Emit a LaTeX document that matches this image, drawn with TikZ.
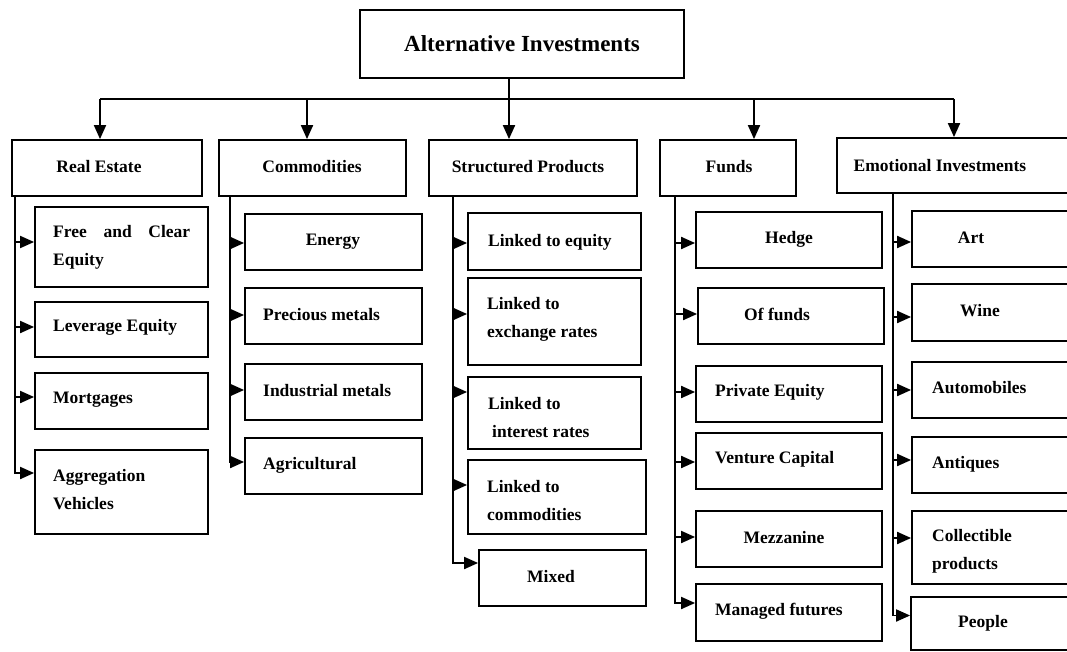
\documentclass[tikz,border=0pt]{standalone}
\usepackage{fontspec}
\setmainfont{Liberation Serif}
\usetikzlibrary{arrows.meta,fit}
\begin{document}
\begin{tikzpicture}[x=1pt,y=-1pt,
  bx/.style={draw, line width=1.8pt, inner sep=0pt, rectangle},
  txt/.style={font=\bfseries\fontsize{17.5}{28}\selectfont, inner sep=0pt, align=left},
  ttl/.style={font=\bfseries\fontsize{23}{26}\selectfont, inner sep=0pt},
  ln/.style={line width=1.9pt},
  arr/.style={line width=1.9pt, -{Triangle[length=14pt,width=12pt]}}]
\useasboundingbox (0,0) rectangle (1067,652);
\fill[white] (0,0) rectangle (1067,652);
\clip (0,0) rectangle (1067,652);

% top
\node[bx, fit={(360,10) (684,78)}] (top) {};
\node[ttl] (ttop) at (522,44) {Alternative Investments};

% level 1
\node[bx, fit={(12,140) (202,196)}] (re) {};
\node[txt] (tre) at (99,167) {Real Estate};
\node[bx, fit={(219,140) (406,196)}] (cm) {};
\node[txt] (tcm) at (312,167) {Commodities};
\node[bx, fit={(429,140) (637,196)}] (sp) {};
\node[txt] (tsp) at (528,167) {Structured Products};
\node[bx, fit={(660,140) (796,196)}] (fu) {};
\node[txt] (tfu) at (729,167) {Funds};
\node[bx, fit={(837,138) (1085,193)}] (em) {};
\node[txt] (tem) at (940,166) {Emotional Investments};

% bus
\coordinate (hub) at (509,99);
\coordinate (b1) at (100,99);
\coordinate (b2) at (307,99);
\coordinate (b4) at (754,99);
\coordinate (b5) at (954,99);
\draw[ln] (top.south -| hub) -- (hub);
\draw[ln] (b1) -- (b5);
\draw[arr] (b1) -- (b1 |- re.north);
\draw[arr] (b2) -- (b2 |- cm.north);
\draw[arr] (hub) -- (hub |- sp.north);
\draw[arr] (b4) -- (b4 |- fu.north);
\draw[arr] (b5) -- (b5 |- em.north);

% Real Estate
\coordinate (reT) at (15,196);
\node[bx, fit={(35,207) (208,287)}] (r1) {};
\node[txt, anchor=west] (tr1) at (53,247.5) {\hbox to 137pt{Free\hfill and\hfill Clear}\\Equity};
\node[bx, fit={(35,302) (208,357)}] (r2) {};
\node[txt, anchor=west] (tr2) at (53,327) {Leverage Equity};
\node[bx, fit={(35,373) (208,429)}] (r3) {};
\node[txt, anchor=west] (tr3) at (53,400) {Mortgages};
\node[bx, fit={(35,450) (208,534)}] (r4) {};
\node[txt, anchor=west] (tr4) at (53,490) {Aggregation\\Vehicles};
\draw[arr] (reT) |- ([yshift=5pt]r1.west);
\draw[arr] (reT) |- ([yshift=2.5pt]r2.west);
\draw[arr] (reT) |- ([yshift=4pt]r3.west);
\draw[arr] (reT) |- ([yshift=19pt]r4.west);

% Commodities
\coordinate (cmT) at (230,196);
\node[bx, fit={(245,214) (422,270)}] (c1) {};
\node[txt] (tc1) at (333,242) {Energy};
\node[bx, fit={(245,288) (422,344)}] (c2) {};
\node[txt, anchor=west] (tc2) at (263,315) {Precious metals};
\node[bx, fit={(245,364) (422,420)}] (c3) {};
\node[txt, anchor=west] (tc3) at (263,391) {Industrial metals};
\node[bx, fit={(245,438) (422,494)}] (c4) {};
\node[txt, anchor=west] (tc4) at (263,465) {Agricultural};
\draw[arr] (cmT) |- ([yshift=-1pt]c1.west);
\draw[arr] (cmT) |- ([yshift=1pt]c2.west);
\draw[arr] (cmT) |- ([yshift=2pt]c3.west);
\draw[arr] (cmT) |- ([yshift=4pt]c4.west);

% Structured Products
\coordinate (spT) at (453,196);
\node[bx, fit={(468,213) (641,270)}] (s1) {};
\node[txt, anchor=west] (ts1) at (488,242) {Linked to equity};
\node[bx, fit={(468,278) (641,365)}] (s2) {};
\node[txt, anchor=west] (ts2) at (487,319) {Linked to\\exchange rates};
\node[bx, fit={(468,377) (641,449)}] (s3) {};
\node[txt, anchor=west] (ts3) at (488,417.5) {Linked to\\\hspace*{4pt}interest rates};
\node[bx, fit={(468,460) (646,534)}] (s4) {};
\node[txt, anchor=west] (ts4) at (487,501) {Linked to\\commodities};
\node[bx, fit={(479,550) (646,606)}] (s5) {};
\node[txt] (ts5) at (551,577) {Mixed};
\draw[arr] (spT) |- ([yshift=-1.5pt]s1.west);
\draw[arr] (spT) |- ([yshift=7.5pt]s2.west);
\draw[arr] (spT) |- ([yshift=21pt]s3.west);
\draw[arr] (spT) |- ([yshift=12pt]s4.west);
\draw[arr] (spT) |- ([yshift=15pt]s5.west);

% Funds
\coordinate (fuT) at (675,196);
\node[bx, fit={(696,212) (882,268)}] (f1) {};
\node[txt] (tf1) at (789,239) {Hedge};
\node[bx, fit={(698,288) (884,344)}] (f2) {};
\node[txt] (tf2) at (777,314) {Of funds};
\node[bx, fit={(696,366) (882,422)}] (f3) {};
\node[txt, anchor=west] (tf3) at (715,392) {Private Equity};
\node[bx, fit={(696,433) (882,489)}] (f4) {};
\node[txt, anchor=west] (tf4) at (715,459) {Venture Capital};
\node[bx, fit={(696,511) (882,567)}] (f5) {};
\node[txt] (tf5) at (784,538) {Mezzanine};
\node[bx, fit={(696,584) (882,641)}] (f6) {};
\node[txt, anchor=west] (tf6) at (715,611) {Managed futures};
\draw[arr] (fuT) |- ([yshift=-3pt]f1.west);
\draw[arr] (fuT) |- ([yshift=2pt]f2.west);
\draw[arr] (fuT) |- ([yshift=2pt]f3.west);
\draw[arr] (fuT) |- ([yshift=-1pt]f4.west);
\draw[arr] (fuT) |- ([yshift=2pt]f5.west);
\draw[arr] (fuT) |- ([yshift=9.5pt]f6.west);

% Emotional Investments
\coordinate (emT) at (893,193);
\node[bx, fit={(912,211) (1085,267)}] (e1) {};
\node[txt] (te1) at (971,238) {Art};
\node[bx, fit={(912,284) (1085,341)}] (e2) {};
\node[txt] (te2) at (980,311) {Wine};
\node[bx, fit={(912,362) (1085,418)}] (e3) {};
\node[txt, anchor=west] (te3) at (932,388) {Automobiles};
\node[bx, fit={(912,437) (1085,493)}] (e4) {};
\node[txt, anchor=west] (te4) at (932,464) {Antiques};
\node[bx, fit={(912,511) (1085,584)}] (e5) {};
\node[txt, anchor=west] (te5) at (932,551) {Collectible\\products};
\node[bx, fit={(911,597) (1085,650)}] (e6) {};
\node[txt] (te6) at (983,623) {People};
\draw[arr] (emT) |- ([yshift=-3pt]e1.west);
\draw[arr] (emT) |- ([yshift=-4.5pt]e2.west);
\draw[arr] (emT) |- (e3.west);
\draw[arr] (emT) |- ([yshift=5pt]e4.west);
\draw[arr] (emT) |- ([yshift=9.5pt]e5.west);
\draw[arr] (emT) |- ([yshift=8pt]e6.west);
\end{tikzpicture}
\end{document}
